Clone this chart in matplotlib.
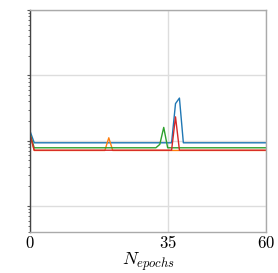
"""Training loss curves over epochs (log y)."""

import numpy as np
import matplotlib
matplotlib.use("Agg")
import matplotlib.pyplot as plt
from matplotlib.ticker import LogLocator, NullFormatter, FixedLocator

plt.rcParams["mathtext.fontset"] = "cm"
plt.rcParams["font.family"] = "serif"

epochs = np.arange(0, 61)

# per-run losses, flat plateau with a few spikes
base_blue, base_orange, base_green, base_red = 0.093, 0.071, 0.078, 0.0716

loss_blue = np.full(epochs.shape, base_blue)
loss_blue[0] = 0.137
loss_blue[37] = 0.37
loss_blue[38] = 0.45

loss_orange = np.full(epochs.shape, base_orange)
loss_orange[0] = 0.12
loss_orange[20] = 0.111

loss_green = np.full(epochs.shape, base_green)
loss_green[0] = 0.122
loss_green[33] = 0.088
loss_green[34] = 0.16

loss_red = np.full(epochs.shape, base_red)
loss_red[0] = 0.12
loss_red[37] = 0.232

series = [
    (loss_blue, "#1f77b4"),
    (loss_orange, "#ff7f0e"),
    (loss_green, "#2ca02c"),
    (loss_red, "#d62728"),
]

xticks = [0, 35, 60]

fig = plt.figure(figsize=(2.78, 2.73), dpi=100)
ax = fig.add_axes([0.109, 0.150, 0.847, 0.813])

for values, color in series:
    ax.plot(epochs, values, color=color, linewidth=1.0)

ax.set_yscale("log")
ax.set_xlim(0, 60)
ax.set_ylim(0.004, 10)

ax.xaxis.set_major_locator(FixedLocator(xticks))
ax.set_xticklabels([f"${t}$" for t in xticks], fontsize=12)
ax.yaxis.set_major_locator(LogLocator(base=10, numticks=10))
ax.yaxis.set_minor_locator(LogLocator(base=10, subs=np.arange(2, 10), numticks=10))
ax.yaxis.set_major_formatter(NullFormatter())
ax.yaxis.set_minor_formatter(NullFormatter())

ax.grid(True, which="major", color="#dddddd", linewidth=1.0)
ax.set_axisbelow(True)
ax.tick_params(axis="x", length=0, pad=2)
ax.tick_params(axis="y", which="major", length=2.5, width=0.8, color="#555555")
ax.tick_params(axis="y", which="minor", length=1.8, width=0.6, color="#555555")

for side in ("top", "right", "bottom"):
    ax.spines[side].set_color("#aaaaaa")
    ax.spines[side].set_linewidth(1.0)
ax.spines["left"].set_color("#444444")
ax.spines["left"].set_linewidth(1.0)

ax.set_xlabel(r"$N_{epochs}$", fontsize=13, labelpad=-1)

fig.savefig("out.png", dpi=100)
plt.close(fig)
